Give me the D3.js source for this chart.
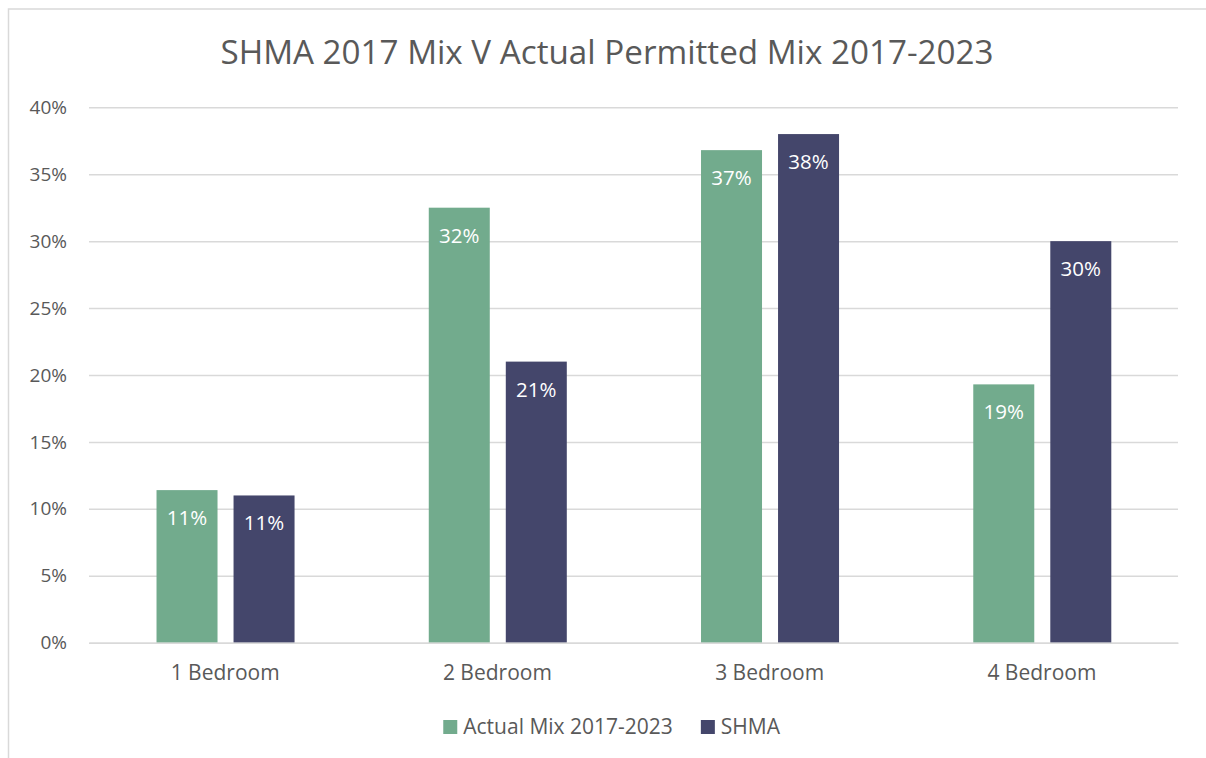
<!DOCTYPE html>
<html><head><meta charset="utf-8">
<script src="https://cdn.jsdelivr.net/npm/d3@7"></script>
<style>body{margin:0;background:#fff}svg{display:block}text{font-family:"Open Sans",sans-serif}</style>
</head><body><svg id="c" width="1206" height="758"></svg>
<script>
const categories = ["1 Bedroom","2 Bedroom","3 Bedroom","4 Bedroom"];
const seriesNames = ["Actual Mix 2017-2023","SHMA"];
const actualMix = [0.114, 0.325, 0.368, 0.193];
const shma = [0.11, 0.21, 0.38, 0.30];
const labelsActual = ["11%","32%","37%","19%"];
const labelsShma = ["11%","21%","38%","30%"];
const yTicks = [0,0.05,0.10,0.15,0.20,0.25,0.30,0.35,0.40];
const colors = ["#72AB8D","#44466B"];
const title = "SHMA 2017 Mix V Actual Permitted Mix 2017-2023";

const svg = d3.select("#c");
const W=1206,H=758;
const m={left:89,right:1178,top:107.3,bottom:642.7};
svg.append("rect").attr("x",8.5).attr("y",9).attr("width",1230).attr("height",800)
  .attr("fill","#fff").attr("stroke","#d9d9d9").attr("stroke-width",1.5);

const y=d3.scaleLinear().domain([0,0.4]).range([m.bottom,m.top]);
const x0=d3.scaleBand().domain(categories).range([m.left,m.right]).paddingInner(0).paddingOuter(0);
const bw=x0.bandwidth();
const x1=d3.scaleBand().domain(seriesNames).range([bw*0.248,bw*0.755]).paddingInner(0.208).paddingOuter(0);

// grid
const yAxis=d3.axisLeft(y).tickValues(yTicks).tickSize(-(m.right-m.left)).tickFormat(d3.format(".0%")).tickPadding(22);
const ga=svg.append("g").attr("transform",`translate(${m.left},0)`).call(yAxis);
ga.select(".domain").remove();
ga.selectAll(".tick line").attr("stroke","#d9d9d9").attr("stroke-width",1.5);
ga.selectAll(".tick text").attr("fill","#595959").style("font-size","19px");

const data=categories.map((c,i)=>({cat:c,vals:[
  {s:seriesNames[0],v:actualMix[i],l:labelsActual[i],c:colors[0]},
  {s:seriesNames[1],v:shma[i],l:labelsShma[i],c:colors[1]}]}));
const g=svg.selectAll(".grp").data(data).join("g").attr("transform",d=>`translate(${x0(d.cat)},0)`);
g.selectAll("rect").data(d=>d.vals).join("rect")
  .attr("x",d=>x1(d.s)).attr("width",x1.bandwidth())
  .attr("y",d=>y(d.v)).attr("height",d=>y(0)-y(d.v)).attr("fill",d=>d.c);
g.selectAll("text.lab").data(d=>d.vals).join("text").attr("class","lab")
  .attr("x",d=>x1(d.s)+x1.bandwidth()/2).attr("y",d=>y(d.v)+35)
  .attr("text-anchor","middle").attr("fill","#fff").style("font-size","20.5px").text(d=>d.l);

// x axis
const xAxis=d3.axisBottom(x0).tickSize(0).tickPadding(22);
const gx=svg.append("g").attr("transform",`translate(0,${m.bottom})`).call(xAxis);
gx.select(".domain").attr("stroke","#d9d9d9").attr("stroke-width",1.5);
gx.selectAll(".tick text").attr("fill","#595959").style("font-size","21px");

// title
svg.append("text").attr("x",607).attr("y",64).attr("text-anchor","middle")
  .attr("fill","#595959").style("font-size","33.2px").text(title);

// legend
const lg=svg.append("g");
const items=lg.selectAll("g").data(seriesNames).join("g");
items.append("rect").attr("width",14).attr("height",14).attr("y",-14).attr("fill",(d,i)=>colors[i]);
items.append("text").attr("x",20).attr("y",0).attr("fill","#595959").style("font-size","21px").text(d=>d);
let xoff=0; const pos=[];
items.each(function(d){const w=this.getBBox().width;pos.push(xoff);xoff+=w+28;});
const total=xoff-28;
items.attr("transform",(d,i)=>`translate(${pos[i]},0)`);
lg.attr("transform",`translate(${(W-total)/2 + 9},734)`);
</script></body></html>
